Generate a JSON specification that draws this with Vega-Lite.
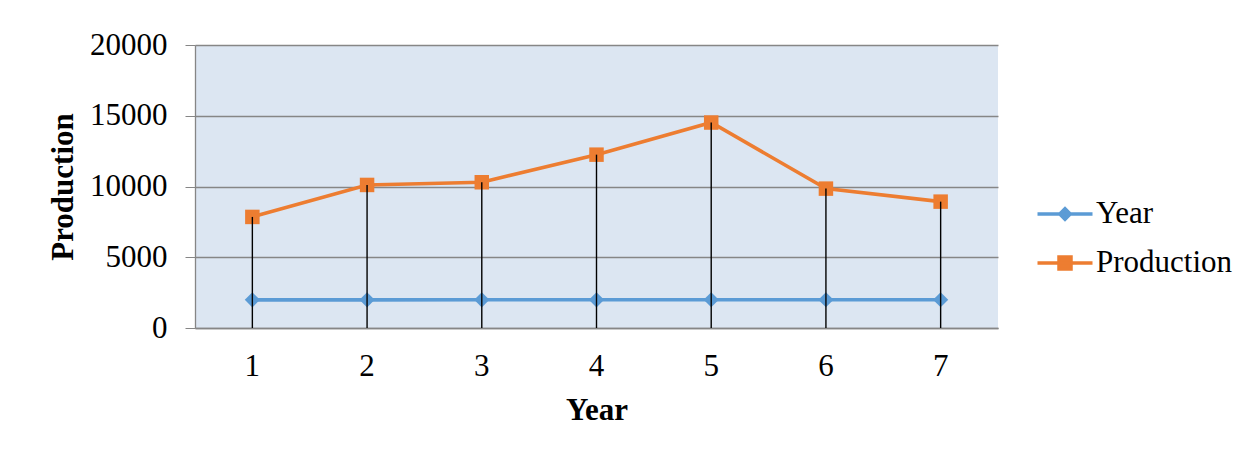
{
  "$schema": "https://vega.github.io/schema/vega-lite/v6.json",
  "width": 803,
  "height": 283,
  "autosize": {"type": "none"},
  "padding": {"left": 195, "top": 45, "right": 261, "bottom": 124},
  "background": "white",
  "config": {
    "view": {"stroke": null, "fill": "#DCE6F2"},
    "font": "Liberation Serif"
  },
  "data": {
    "values": [
      {"idx": 1, "series": "Year", "value": 1990},
      {"idx": 2, "series": "Year", "value": 1991},
      {"idx": 3, "series": "Year", "value": 1992},
      {"idx": 4, "series": "Year", "value": 1993},
      {"idx": 5, "series": "Year", "value": 1994},
      {"idx": 6, "series": "Year", "value": 1995},
      {"idx": 7, "series": "Year", "value": 1996},
      {"idx": 1, "series": "Production", "value": 7850},
      {"idx": 2, "series": "Production", "value": 10110},
      {"idx": 3, "series": "Production", "value": 10300},
      {"idx": 4, "series": "Production", "value": 12250},
      {"idx": 5, "series": "Production", "value": 14520},
      {"idx": 6, "series": "Production", "value": 9850},
      {"idx": 7, "series": "Production", "value": 8930}
    ]
  },
  "encoding": {
    "x": {
      "field": "idx",
      "type": "ordinal",
      "title": "Year",
      "axis": {
        "labelAngle": 0,
        "ticks": false,
        "tickSize": 0,
        "domainColor": "#868686",
        "domainWidth": 1.3,
        "labelPadding": 23,
        "labelFont": "Liberation Serif",
        "labelFontSize": 31,
        "labelColor": "black",
        "titleFont": "Liberation Serif",
        "titleFontSize": 31,
        "titleFontWeight": "bold",
        "titleColor": "black",
        "titleY": 91,
        "titleBaseline": "alphabetic",
        "grid": false
      }
    },
    "y": {
      "field": "value",
      "type": "quantitative",
      "title": "Production",
      "scale": {"domain": [0, 20000], "nice": false},
      "axis": {
        "values": [0, 5000, 10000, 15000, 20000],
        "format": "d",
        "domainColor": "#868686",
        "domainWidth": 1.3,
        "tickColor": "#868686",
        "tickSize": 10,
        "labelPadding": 18,
        "labelFont": "Liberation Serif",
        "labelFontSize": 31,
        "labelColor": "black",
        "labelFlush": false,
        "labelOverlap": false,
        "grid": true,
        "gridColor": "#868686",
        "gridWidth": 1.3,
        "titleFont": "Liberation Serif",
        "titleFontSize": 31,
        "titleFontWeight": "bold",
        "titleColor": "black",
        "titleAngle": -90,
        "titleX": -123,
        "titleY": 141.5,
        "titleAlign": "center",
        "titleBaseline": "alphabetic"
      }
    },
    "color": {
      "field": "series",
      "type": "nominal",
      "scale": {"domain": ["Year", "Production"], "range": ["#5B9BD5", "#ED7D31"]},
      "legend": {
        "title": null,
        "orient": "none",
        "legendX": 848,
        "legendY": 147,
        "padding": 0,
        "symbolSize": 1600,
        "rowPadding": 12,
        "labelOffset": 9,
        "labelFont": "Liberation Serif",
        "labelFontSize": 31,
        "labelColor": "black",
        "labelLimit": 300,
        "encode": {
          "symbols": {
            "update": {
              "shape": {"signal": "datum.value === 'Year' ? 'M-1.375,0H1.375M-0.26,0L0,-0.26L0.26,0L0,0.26Z' : 'M-1.375,0H1.375M-0.3,-0.3H0.3V0.3H-0.3Z'"},
              "stroke": {"signal": "datum.value === 'Year' ? '#5B9BD5' : '#ED7D31'"},
              "fill": {"signal": "datum.value === 'Year' ? '#5B9BD5' : '#ED7D31'"},
              "size": {"value": 1600},
              "strokeWidth": {"value": 3.5},
              "opacity": {"value": 1},
              "fillOpacity": {"value": 1},
              "strokeOpacity": {"value": 1}
            }
          }
        }
      }
    }
  },
  "layer": [
    {
      "mark": {"type": "line", "strokeWidth": 3.6}
    },
    {
      "transform": [{"filter": "datum.series === 'Year'"}],
      "mark": {"type": "point", "filled": true, "opacity": 1, "shape": "diamond", "size": 230}
    },
    {
      "transform": [{"filter": "datum.series === 'Production'"}],
      "mark": {"type": "point", "filled": true, "opacity": 1, "shape": "square", "size": 210}
    },
    {
      "transform": [{"filter": "datum.series === 'Production'"}],
      "mark": {"type": "rule", "color": "black", "strokeWidth": 1.4},
      "encoding": {
        "color": {"value": "black"},
        "y2": {"datum": 0}
      }
    }
  ]
}
